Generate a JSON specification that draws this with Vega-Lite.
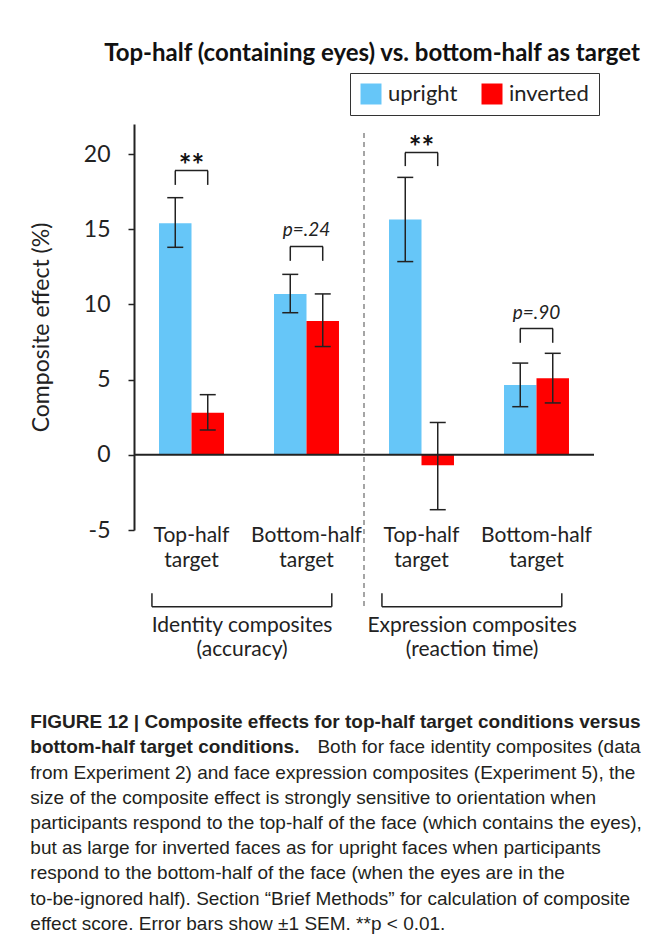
{
  "$schema": "https://vega.github.io/schema/vega-lite/v6.json",
  "padding": {"left": 30, "top": 42, "right": 0, "bottom": 0},
  "background": "white",
  "config": {"view": {"stroke": null}, "font": "Lato"},
  "title": {
    "text": ["FIGURE 12 | Composite effects for top-half target conditions versus", "bottom-half target conditions."],
    "subtitle": ["from Experiment 2) and face expression composites (Experiment 5), the", "size of the composite effect is strongly sensitive to orientation when", "participants respond to the top-half of the face (which contains the eyes),", "but as large for inverted faces as for upright faces when participants", "respond to the bottom-half of the face (when the eyes are in the", "to-be-ignored half). Section \u201cBrief Methods\u201d for calculation of composite", "effect score. Error bars show \u00b11 SEM. **p < 0.01."],
    "orient": "bottom",
    "anchor": "start",
    "frame": "bounds",
    "offset": -44,
    "font": "Liberation Sans",
    "fontSize": 19,
    "fontWeight": "bold",
    "color": "#231f20",
    "lineHeight": 25.2,
    "subtitleFont": "Liberation Sans",
    "subtitleFontSize": 19,
    "subtitleFontWeight": "normal",
    "subtitleColor": "#231f20",
    "subtitleLineHeight": 25.2,
    "subtitlePadding": 6.2
  },
  "datasets": {
    "bars": [
      {"cond": "id_top", "orient": "upright", "value": 15.4, "lo": 13.8, "hi": 17.1},
      {"cond": "id_top", "orient": "inverted", "value": 2.8, "lo": 1.65, "hi": 4.0},
      {"cond": "id_bottom", "orient": "upright", "value": 10.7, "lo": 9.45, "hi": 12.0},
      {"cond": "id_bottom", "orient": "inverted", "value": 8.9, "lo": 7.2, "hi": 10.7},
      {"cond": "ex_top", "orient": "upright", "value": 15.65, "lo": 12.85, "hi": 18.45},
      {"cond": "ex_top", "orient": "inverted", "value": -0.7, "lo": -3.65, "hi": 2.15},
      {"cond": "ex_bottom", "orient": "upright", "value": 4.65, "lo": 3.2, "hi": 6.1},
      {"cond": "ex_bottom", "orient": "inverted", "value": 5.1, "lo": 3.45, "hi": 6.75}
    ],
    "sig": [
      {"cond": "id_top", "kind": "star", "label": "**", "by": 18.9, "legy": 17.95, "ly": 18.57},
      {"cond": "id_bottom", "kind": "p", "label": "p=.24", "by": 13.85, "legy": 12.9, "ly": 14.55},
      {"cond": "ex_top", "kind": "star", "label": "**", "by": 20.1, "legy": 19.2, "ly": 19.77},
      {"cond": "ex_bottom", "kind": "p", "label": "p=.90", "by": 8.4, "legy": 7.45, "ly": 9.0}
    ],
    "groups": [
      {"cond": "id_top", "text": "Identity composites\n(accuracy)"},
      {"cond": "ex_top", "text": "Expression composites\n(reaction time)"}
    ]
  },
  "vconcat": [
    {
      "title": {"text": "Both for face identity composites (data", "orient": "bottom", "anchor": "end", "frame": "bounds", "offset": 78, "font": "Liberation Sans", "fontSize": 19, "fontWeight": "normal", "color": "#231f20"},
      "vconcat": [
        {
          "width": 460,
          "height": 406,
          "title": {"text": "Top-half (containing eyes) vs. bottom-half as target", "font": "Lato", "fontSize": 24, "fontWeight": "bold", "color": "#111", "anchor": "middle", "dx": 8, "offset": 58},
          "layer": [
            {
              "data": {"name": "bars"},
              "mark": {"type": "bar"},
              "encoding": {
                "x": {"field": "cond", "type": "nominal", "sort": ["id_top", "id_bottom", "ex_top", "ex_bottom"],
                  "scale": {"paddingInner": 0, "paddingOuter": 0},
                  "axis": {"title": null, "domain": false, "ticks": false, "labelAngle": 0, "labelFont": "Lato", "labelFontSize": 21, "labelColor": "#222", "labelPadding": -6, "labelBaseline": "top", "labelLineHeight": 25, "labelLimit": 0, "labelOverlap": false,
                    "labelExpr": "indexof(datum.value, 'top') >= 0 ? ['Top-half', 'target'] : ['Bottom-half', 'target']"}},
                "xOffset": {"field": "orient", "type": "nominal", "sort": ["upright", "inverted"], "scale": {"paddingInner": 0, "paddingOuter": 0.77}},
                "y": {"field": "value", "type": "quantitative", "scale": {"domain": [-5, 22], "nice": false, "zero": false},
                  "axis": {"values": [-5, 0, 5, 10, 15, 20], "title": "Composite effect (%)", "grid": false, "domainColor": "#222", "domainWidth": 2, "tickColor": "#222", "tickWidth": 1.5, "tickSize": 6, "labelFont": "Lato", "labelFontSize": 23, "labelColor": "#222", "labelPadding": 18, "titleFont": "Lato", "titleFontSize": 23, "titleFontWeight": "normal", "titleColor": "#222", "titlePadding": 30,
                    "labelExpr": "datum.value < 0 ? '-' + abs(datum.value) : datum.label"}},
                "color": {"field": "orient", "type": "nominal", "sort": ["upright", "inverted"],
                  "scale": {"domain": ["upright", "inverted"], "range": ["#66C6F8", "#FF0000"]},
                  "legend": {"orient": "none", "legendX": 216, "legendY": -51, "direction": "horizontal", "title": null, "symbolType": "square", "symbolSize": 441, "symbolStrokeWidth": 0, "symbolOpacity": 1, "labelFont": "Lato", "labelFontSize": 22, "labelColor": "#222", "labelOffset": 6, "columnPadding": 23, "padding": 10, "strokeColor": "#333"}}
              }
            },
            {
              "data": {"name": "bars"},
              "mark": {"type": "rule", "color": "#222", "strokeWidth": 1.5},
              "encoding": {
                "x": {"field": "cond", "type": "nominal", "sort": ["id_top", "id_bottom", "ex_top", "ex_bottom"]},
                "xOffset": {"field": "orient", "type": "nominal", "sort": ["upright", "inverted"]},
                "y": {"field": "lo", "type": "quantitative"},
                "y2": {"field": "hi"}
              }
            },
            {
              "data": {"name": "bars"},
              "mark": {"type": "tick", "orient": "horizontal", "color": "#222", "thickness": 1.5, "size": 16, "opacity": 1},
              "encoding": {
                "x": {"field": "cond", "type": "nominal", "sort": ["id_top", "id_bottom", "ex_top", "ex_bottom"]},
                "xOffset": {"field": "orient", "type": "nominal", "sort": ["upright", "inverted"]},
                "y": {"field": "lo", "type": "quantitative"}
              }
            },
            {
              "data": {"name": "bars"},
              "mark": {"type": "tick", "orient": "horizontal", "color": "#222", "thickness": 1.5, "size": 16, "opacity": 1},
              "encoding": {
                "x": {"field": "cond", "type": "nominal", "sort": ["id_top", "id_bottom", "ex_top", "ex_bottom"]},
                "xOffset": {"field": "orient", "type": "nominal", "sort": ["upright", "inverted"]},
                "y": {"field": "hi", "type": "quantitative"}
              }
            },
            {
              "data": {"values": [{"zero": 0}]},
              "mark": {"type": "rule", "color": "#222", "strokeWidth": 2},
              "encoding": {"y": {"field": "zero", "type": "quantitative"}}
            },
            {
              "data": {"values": [{"cond": "ex_top"}]},
              "mark": {"type": "rule", "color": "#888", "strokeWidth": 1.5, "strokeDash": [5, 4]},
              "encoding": {
                "x": {"field": "cond", "type": "nominal", "sort": ["id_top", "id_bottom", "ex_top", "ex_bottom"], "bandPosition": 0},
                "y": {"datum": 21.4},
                "y2": {"datum": -10.05}
              }
            },
            {
              "data": {"name": "sig"},
              "mark": {"type": "tick", "orient": "horizontal", "color": "#222", "thickness": 1.5, "size": 33, "opacity": 1},
              "encoding": {
                "x": {"field": "cond", "type": "nominal", "sort": ["id_top", "id_bottom", "ex_top", "ex_bottom"]},
                "y": {"field": "by", "type": "quantitative"}
              }
            },
            {
              "data": {"name": "sig"},
              "mark": {"type": "rule", "color": "#222", "strokeWidth": 1.5},
              "encoding": {
                "x": {"field": "cond", "type": "nominal", "sort": ["id_top", "id_bottom", "ex_top", "ex_bottom"], "bandPosition": 0.359},
                "y": {"field": "by", "type": "quantitative"},
                "y2": {"field": "legy"}
              }
            },
            {
              "data": {"name": "sig"},
              "mark": {"type": "rule", "color": "#222", "strokeWidth": 1.5},
              "encoding": {
                "x": {"field": "cond", "type": "nominal", "sort": ["id_top", "id_bottom", "ex_top", "ex_bottom"], "bandPosition": 0.641},
                "y": {"field": "by", "type": "quantitative"},
                "y2": {"field": "legy"}
              }
            },
            {
              "data": {"name": "sig"},
              "transform": [{"filter": "datum.kind == 'star'"}],
              "mark": {"type": "text", "font": "Lato", "fontSize": 30, "fontWeight": "bold", "color": "#111", "baseline": "alphabetic"},
              "encoding": {
                "x": {"field": "cond", "type": "nominal", "sort": ["id_top", "id_bottom", "ex_top", "ex_bottom"]},
                "y": {"field": "ly", "type": "quantitative"},
                "text": {"field": "label"}
              }
            },
            {
              "data": {"name": "sig"},
              "transform": [{"filter": "datum.kind == 'p'"}],
              "mark": {"type": "text", "font": "Lato", "fontSize": 19, "fontStyle": "italic", "color": "#222", "baseline": "alphabetic"},
              "encoding": {
                "x": {"field": "cond", "type": "nominal", "sort": ["id_top", "id_bottom", "ex_top", "ex_bottom"]},
                "y": {"field": "ly", "type": "quantitative"},
                "text": {"field": "label"}
              }
            },
            {
              "data": {"name": "groups"},
              "mark": {"type": "rule", "color": "#222", "strokeWidth": 1.5},
              "encoding": {
                "x": {"field": "cond", "type": "nominal", "sort": ["id_top", "id_bottom", "ex_top", "ex_bottom"], "bandPosition": 0.156},
                "x2": {"field": "cond", "bandPosition": 1.72},
                "y": {"datum": -10.1}
              }
            },
            {
              "data": {"name": "groups"},
              "mark": {"type": "rule", "color": "#222", "strokeWidth": 1.5},
              "encoding": {
                "x": {"field": "cond", "type": "nominal", "sort": ["id_top", "id_bottom", "ex_top", "ex_bottom"], "bandPosition": 0.156},
                "y": {"datum": -9.2},
                "y2": {"datum": -10.1}
              }
            },
            {
              "data": {"name": "groups"},
              "mark": {"type": "rule", "color": "#222", "strokeWidth": 1.5},
              "encoding": {
                "x": {"field": "cond", "type": "nominal", "sort": ["id_top", "id_bottom", "ex_top", "ex_bottom"], "bandPosition": 1.72},
                "y": {"datum": -9.2},
                "y2": {"datum": -10.1}
              }
            },
            {
              "data": {"name": "groups"},
              "mark": {"type": "text", "font": "Lato", "fontSize": 21, "color": "#222", "baseline": "alphabetic", "lineBreak": "\n", "lineHeight": 24},
              "encoding": {
                "x": {"field": "cond", "type": "nominal", "sort": ["id_top", "id_bottom", "ex_top", "ex_bottom"], "bandPosition": 0.94},
                "y": {"datum": -11.8},
                "text": {"field": "text"}
              }
            }
          ]
        }
      ]
    }
  ]
}
